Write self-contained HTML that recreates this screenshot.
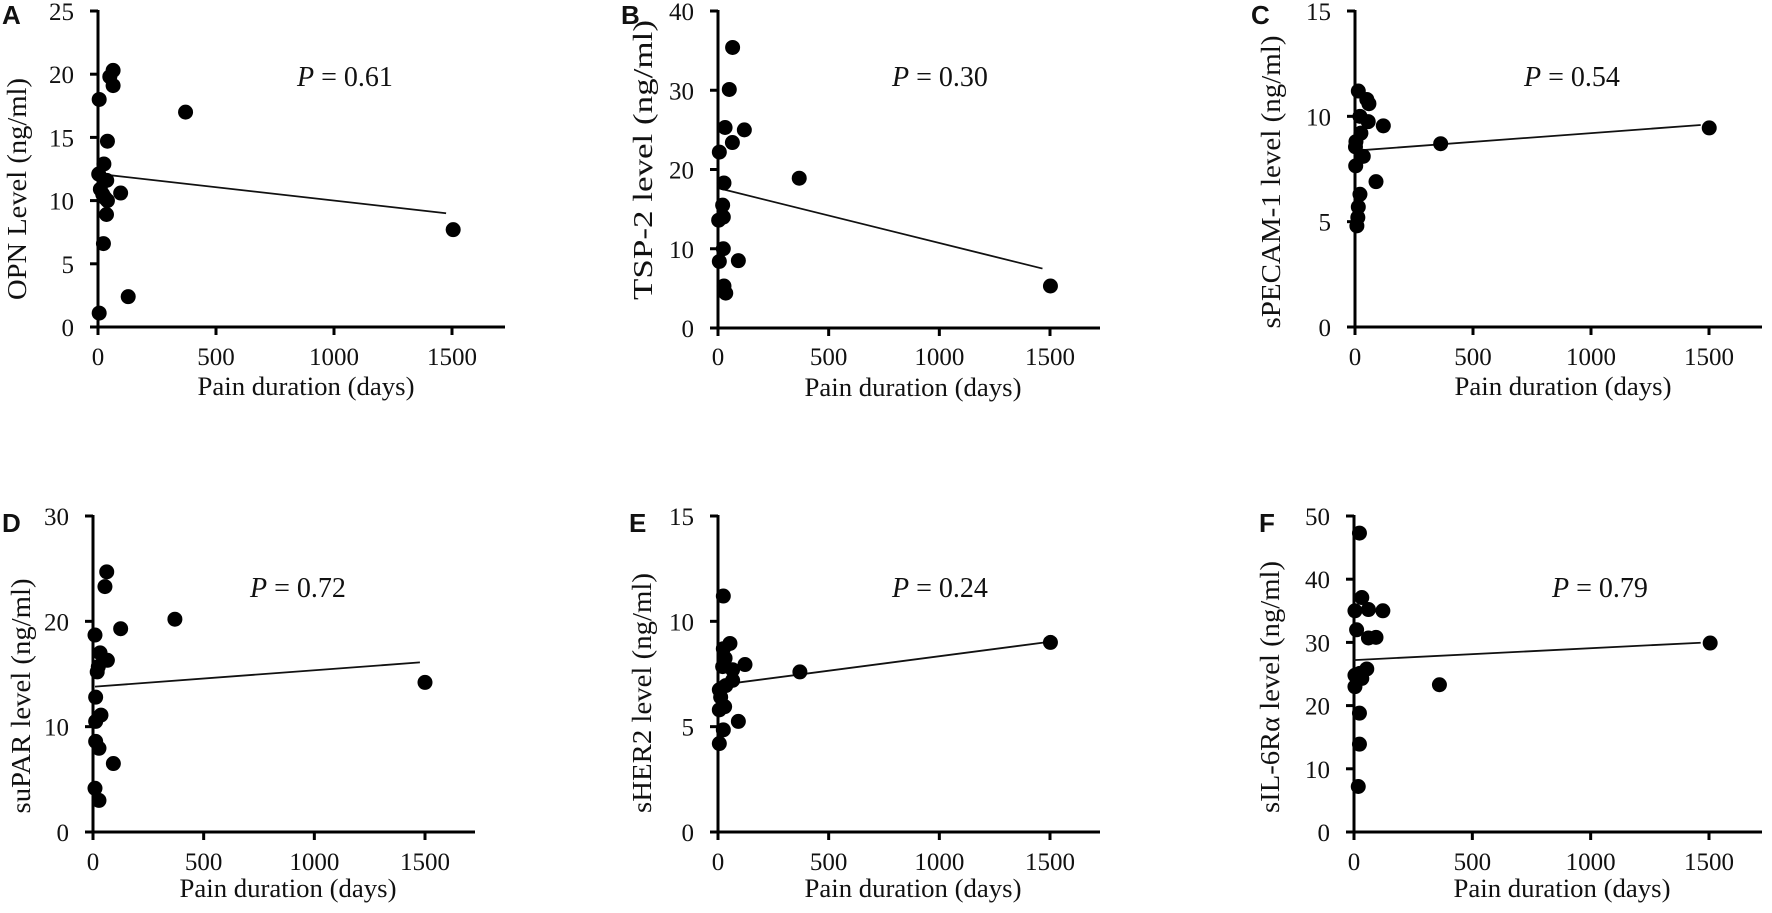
<!DOCTYPE html>
<html><head><meta charset="utf-8"><style>
html,body{margin:0;padding:0;background:#fff;}
svg{display:block;}
text{font-family:"Liberation Serif",serif;fill:#111;}
.lbl{font-family:"Liberation Sans",sans-serif;font-weight:bold;font-size:26px;}
</style></head><body>
<svg id="fig" width="1772" height="913" viewBox="0 0 1772 913" xmlns="http://www.w3.org/2000/svg"></svg>
<script>
// ---- data ----
const xTicks = [0, 500, 1000, 1500];
const aDays = [64,50,64,5,371,40,25,3,37,10,20,30,40,96,36,23,128,5,1505];
const aVals = [20.3,19.8,19.1,18.0,17.0,14.7,12.9,12.1,11.6,10.9,10.5,10.2,10.0,10.6,8.9,6.6,2.4,1.1,7.7];
const aLine = [8, 12.1, 1475, 9.0];
const bDays = [66,51,32,119,65,6,27,367,21,3,24,24,6,92,27,35,1502];
const bVals = [35.4,30.1,25.3,25.0,23.4,22.2,18.3,18.9,15.5,13.6,14.0,10.0,8.4,8.5,5.3,4.4,5.3];
const bLine = [8, 17.6, 1466, 7.5];
const cDays = [14,50,59,21,56,120,25,4,2,35,3,89,21,14,12,8,363,1501];
const cVals = [11.2,10.8,10.6,10.0,9.75,9.55,9.2,8.8,8.55,8.1,7.65,6.9,6.3,5.7,5.2,4.8,8.7,9.45];
const cLine = [0, 8.37, 1465, 9.59];
const dDays = [62,54,370,125,9,32,65,24,19,12,36,12,12,27,92,9,27,1500];
const dVals = [24.7,23.3,20.2,19.3,18.7,17.0,16.3,15.7,15.2,12.8,11.1,10.5,8.6,7.95,6.5,4.15,3.0,14.2];
const dLine = [9, 13.8, 1477, 16.1];
const eDays = [24,54,24,32,122,66,21,370,66,35,6,12,30,6,92,24,6,1502];
const eVals = [11.2,8.95,8.7,8.25,7.95,7.7,7.85,7.6,7.2,6.95,6.75,6.4,5.95,5.8,5.25,4.85,4.2,9.0];
const eLine = [8, 6.98, 1500, 9.03];
const fDays = [23,33,4,61,122,11,61,93,54,25,4,33,4,23,23,18,361,1505];
const fVals = [47.3,37.1,35.0,35.2,35.0,32.0,30.7,30.8,25.8,25.1,24.8,24.3,23.0,18.8,13.9,7.2,23.3,29.9];
const fLine = [0, 27.2, 1465, 29.95];
const aYTicks = [0,5,10,15,20,25];
const bYTicks = [0,10,20,30,40];
const cYTicks = [0,5,10,15];
const dYTicks = [0,10,20,30];
const eYTicks = [0,5,10,15];
const fYTicks = [0,10,20,30,40,50];
const pLabels = ["0.61","0.30","0.54","0.72","0.24","0.79"];

// ---- layout ----
const panels = [
 {id:"a",L:"A",days:aDays,vals:aVals,line:aLine,yt:aYTicks,ymax:25,x0:98,x1500:452,xend:505,yTop:11,yBot:327,
  ytitle:"OPN Level (ng/ml)",ytx:17,yty:189,ytl:222,xtx:306,xty:395,tly:365,px:297,py:86,lx:2,ly:24},
 {id:"b",L:"B",days:bDays,vals:bVals,line:bLine,yt:bYTicks,ymax:40,x0:718,x1500:1050,xend:1100,yTop:11,yBot:328,
  ytitle:"TSP-2 level (ng/ml)",ytx:643,yty:160,ytl:280,xtx:913,xty:396,tly:365,px:892,py:86,lx:621,ly:24},
 {id:"c",L:"C",days:cDays,vals:cVals,line:cLine,yt:cYTicks,ymax:15,x0:1355,x1500:1709,xend:1762,yTop:11,yBot:327,
  ytitle:"sPECAM-1 level (ng/ml)",ytx:1271,yty:182,ytl:293,xtx:1563,xty:395,tly:365,px:1524,py:86,lx:1251,ly:24},
 {id:"d",L:"D",days:dDays,vals:dVals,line:dLine,yt:dYTicks,ymax:30,x0:93,x1500:425,xend:475,yTop:516,yBot:832,
  ytitle:"suPAR level (ng/ml)",ytx:21,yty:696,ytl:235,xtx:288,xty:897,tly:870,px:250,py:597,lx:2,ly:532},
 {id:"e",L:"E",days:eDays,vals:eVals,line:eLine,yt:eYTicks,ymax:15,x0:718,x1500:1050,xend:1100,yTop:516,yBot:832,
  ytitle:"sHER2 level (ng/ml)",ytx:642,yty:693,ytl:240,xtx:913,xty:897,tly:870,px:892,py:597,lx:629,ly:532},
 {id:"f",L:"F",days:fDays,vals:fVals,line:fLine,yt:fYTicks,ymax:50,x0:1354,x1500:1709,xend:1762,yTop:516,yBot:832,
  ytitle:"sIL-6R\u03b1 level (ng/ml)",ytx:1270,yty:687,ytl:252,xtx:1562,xty:897,tly:870,px:1552,py:597,lx:1259,ly:532}
];
const NS="http://www.w3.org/2000/svg";
const svg=document.getElementById("fig");
function mk(tag,attrs,parent){const e=document.createElementNS(NS,tag);for(const k in attrs)e.setAttribute(k,attrs[k]);(parent||svg).appendChild(e);return e;}

panels.forEach((p,pi)=>{
  const g=mk("g",{});
  
  
  const xs=d=>p.x0+(p.x1500-p.x0)*d/1500;
  const ys=v=>p.yBot-(p.yBot-p.yTop)*v/p.ymax;
  // panel letter
  const lt=mk("text",{x:p.lx,y:p.ly,"class":"lbl"},g);lt.textContent=p.L;
  
  
  // axes
  const ya=mk("line",{x1:p.x0,y1:p.yTop-1,x2:p.x0,y2:p.yBot+8,stroke:"#000","stroke-width":3},g);
  
  
  const xa=mk("line",{x1:p.x0-8,y1:p.yBot,x2:p.xend,y2:p.yBot,stroke:"#000","stroke-width":3},g);
  
  
  p.yt.forEach(v=>{
    const y=ys(v);
    mk("line",{x1:p.x0-8,y1:y,x2:p.x0,y2:y,stroke:"#000","stroke-width":3},g);
    const t=mk("text",{x:p.x0-24,y:y+9,"text-anchor":"end","font-size":25},g);t.textContent=v;
    
    
  });
  xTicks.forEach(v=>{
    const x=xs(v);
    mk("line",{x1:x,y1:p.yBot,x2:x,y2:p.yBot+8,stroke:"#000","stroke-width":3},g);
    const t=mk("text",{x:x,y:p.tly,"text-anchor":"middle","font-size":25},g);t.textContent=v;
    
    
  });
  // titles
  const xt=mk("text",{x:p.xtx,y:p.xty,"text-anchor":"middle","font-size":26,textLength:217,lengthAdjust:"spacingAndGlyphs"},g);
  xt.textContent="Pain duration (days)";
  
  
  const yt=mk("text",{x:0,y:0,"text-anchor":"middle","font-size":27,textLength:p.ytl,lengthAdjust:"spacingAndGlyphs",
     transform:`translate(${p.ytx+9},${p.yty}) rotate(-90)`},g);
  yt.textContent=p.ytitle;
  
  
  // regression line
  const rl=mk("line",{x1:xs(p.line[0]),y1:ys(p.line[1]),x2:xs(p.line[2]),y2:ys(p.line[3]),stroke:"#111","stroke-width":1.8},g);
  
  
  // points
  p.days.forEach((d,i)=>{
    const c=mk("circle",{cx:xs(d),cy:ys(p.vals[i]),r:7.5,fill:"#000"},g);
    
    
  });
  // p-value
  const pt=mk("text",{x:p.px,y:p.py,"font-size":28},g);
  const ps=mk("tspan",{"font-style":"italic"},pt);ps.textContent="P";
  const ps2=mk("tspan",{},pt);ps2.textContent=" = "+pLabels[pi];
  
  
});
</script>
</body></html>
